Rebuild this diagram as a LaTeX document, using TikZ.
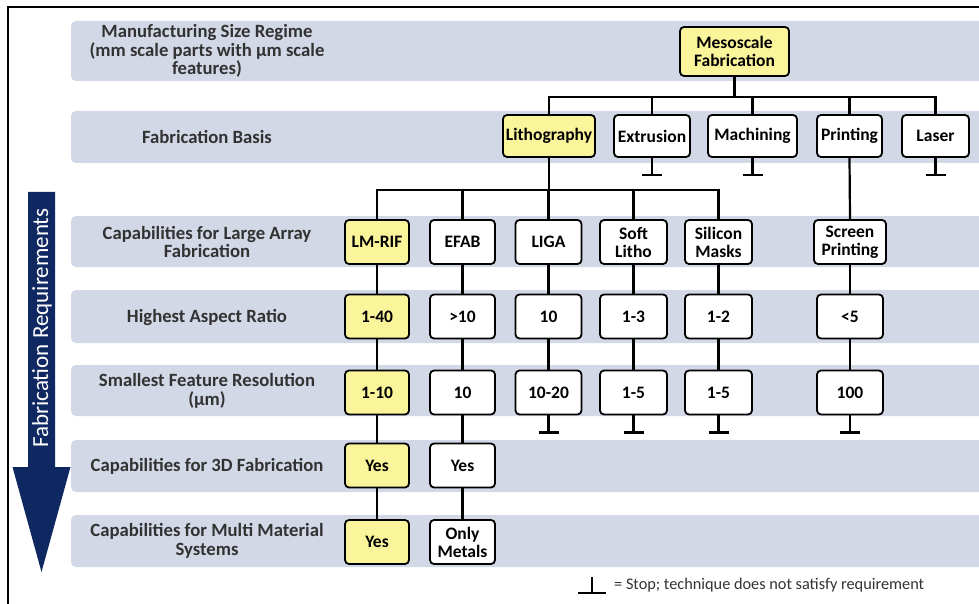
\documentclass[tikz,border=0pt]{standalone}
\usepackage{fontspec}
\setmainfont{Carlito}
\definecolor{bandblue}{RGB}{211,216,230}
\definecolor{boxyellow}{RGB}{250,245,155}
\definecolor{navy}{RGB}{16,40,98}
\definecolor{labelgray}{RGB}{50,50,50}
\newcommand\lbf{\bfseries\fontsize{18.7}{18.7}\selectfont}
\newcommand\bxf{\bfseries\fontsize{17.5}{18}\selectfont}
\tikzset{
  band/.style={fill=bandblue, rounded corners=5pt},
  rowlabel/.style={font=\lbf, text=labelgray, align=center, inner sep=0pt},
  box/.style={draw, line width=1.8pt, rounded corners=4pt, fill=white, font=\bxf,
    align=center, inner xsep=2pt, inner ysep=0pt, text=black},
  ybox/.style={box, fill=boxyellow},
  conn/.style={line width=2.2pt},
  stopbar/.style={line width=2.2pt},
  r3/.style={minimum height=44pt},
}
\begin{document}
\begin{tikzpicture}[x=1pt,y=-1pt]
\useasboundingbox (0,0) rectangle (979,604);
% frame
\draw[line width=1.2pt] (8,604) -- (8,7) -- (985,7);
% bands
\fill[band] (71,21) rectangle (995,81);
\fill[band] (71,111) rectangle (995,163);
\fill[band] (71,216) rectangle (995,267);
\fill[band] (71,290) rectangle (995,343);
\fill[band] (71,365) rectangle (995,416);
\fill[band] (71,440) rectangle (995,492);
\fill[band] (71,515) rectangle (995,567);
% row labels
\node[rowlabel] (l1) at (207,51) {Manufacturing Size Regime\\(mm scale parts with µm scale\\features)};
\node[rowlabel] (l2) at (207,137) {Fabrication Basis};
\node[rowlabel] (l3) at (207,242) {Capabilities for Large Array\\Fabrication};
\node[rowlabel] (l4) at (207,317.5) {Highest Aspect Ratio};
\node[rowlabel] (l5) at (207,391) {Smallest Feature Resolution\\(µm)};
\node[rowlabel] (l6) at (207,466) {Capabilities for 3D Fabrication};
\node[rowlabel] (l7) at (207,541) {Capabilities for Multi Material\\Systems};
% big arrow
\fill[navy] (28,192) -- (55,192) -- (55,467) -- (70.5,467) -- (41.5,572) -- (12.5,467) -- (28,467) -- cycle;
\node[rotate=90, text=white, font=\fontsize{23}{23}\selectfont, inner sep=0pt] (arrowtext) at (42,328) {Fabrication Requirements};
% nodes
\node[ybox, minimum width=109pt, minimum height=49pt] (meso) at (734.5,51.5) {Mesoscale\\Fabrication};
\node[ybox, minimum width=92pt, minimum height=42pt] (litho) at (549,136) {Lithography};
\node[box, minimum width=76pt, minimum height=42pt] (extr) at (652,136) {Extrusion};
\node[box, minimum width=89pt, minimum height=42pt] (mach) at (752.5,136) {Machining};
\node[box, minimum width=65pt, minimum height=42pt] (print) at (849.5,136) {Printing};
\node[box, minimum width=67pt, minimum height=42pt] (laser) at (935.5,136) {Laser};
% row 3
\node[ybox, r3, minimum width=64pt] (lmrif) at (377,242) {LM-RIF};
\node[box, r3, minimum width=65pt] (efab) at (462.5,242) {EFAB};
\node[box, r3, minimum width=66pt] (liga) at (548.5,242) {LIGA};
\node[box, r3, minimum width=67pt] (soft) at (633.5,242) {Soft\\Litho};
\node[box, r3, minimum width=67pt] (silicon) at (718.5,242) {Silicon\\Masks};
\node[box, r3, minimum width=72pt] (screen) at (850,242) {Screen\\Printing};
% row 4
\node[ybox, r3, minimum width=64pt] (lmrif4) at (377,316.5) {1-40};
\node[box, r3, minimum width=65pt] (efab4) at (462.5,316.5) {>10};
\node[box, r3, minimum width=66pt] (liga4) at (548.5,316.5) {10};
\node[box, r3, minimum width=67pt] (soft4) at (633.5,316.5) {1-3};
\node[box, r3, minimum width=67pt] (silicon4) at (718.5,316.5) {1-2};
\node[box, r3, minimum width=66pt] (screen4) at (850,316.5) {<5};
% row 5
\node[ybox, r3, minimum width=64pt] (lmrif5) at (377,392.5) {1-10};
\node[box, r3, minimum width=65pt] (efab5) at (462.5,392.5) {10};
\node[box, r3, minimum width=66pt] (liga5) at (548.5,392.5) {10-20};
\node[box, r3, minimum width=67pt] (soft5) at (633.5,392.5) {1-5};
\node[box, r3, minimum width=67pt] (silicon5) at (718.5,392.5) {1-5};
\node[box, r3, minimum width=66pt] (screen5) at (850,392.5) {100};
% row 6
\node[ybox, r3, minimum width=64pt] (lmrif6) at (377,465.5) {Yes};
\node[box, r3, minimum width=65pt] (efab6) at (462.5,465.5) {Yes};
% row 7
\node[ybox, r3, minimum width=64pt] (lmrif7) at (377,542) {Yes};
\node[box, r3, minimum width=65pt] (efab7) at (462.5,542) {Only\\Metals};
% connectors
\coordinate (bus1) at (736,97);
\coordinate (bus2) at (549,190);
\draw[conn] (meso.south) -- (meso.south |- bus1);
\draw[conn] (litho.north) -- (litho.north |- bus1) -- (laser.north |- bus1) -- (laser.north);
\draw[conn] (extr.north) -- (extr.north |- bus1);
\draw[conn] (mach.north) -- (mach.north |- bus1);
\draw[conn] (print.north) -- (print.north |- bus1);
\draw[conn] (litho.south) -- (bus2);
\draw[conn] (lmrif.north) -- (lmrif.north |- bus2) -- (silicon.north |- bus2) -- (silicon.north);
\draw[conn] (efab.north) -- (efab.north |- bus2);
\draw[conn] (liga.north) -- (liga.north |- bus2);
\draw[conn] (soft.north) -- (soft.north |- bus2);
\draw[conn] (print.south) -- (screen.north);
\foreach \a/\b in {lmrif/lmrif4, lmrif4/lmrif5, lmrif5/lmrif6, lmrif6/lmrif7,
  efab/efab4, efab4/efab5, efab5/efab6, efab6/efab7,
  liga/liga4, liga4/liga5, soft/soft4, soft4/soft5,
  silicon/silicon4, silicon4/silicon5, screen/screen4, screen4/screen5}
  \draw[conn] (\a.south) -- (\b.north);
% stops
\foreach \n in {extr, mach, laser, liga5, soft5, silicon5, screen5} {
  \draw[conn] (\n.south) -- ++(0,17) coordinate (\n-stop);
  \draw[stopbar] ([xshift=-10pt]\n-stop) -- ([xshift=10pt]\n-stop);
}
% legend
\coordinate (legtop) at (592,577);
\coordinate (legbase) at (592,593);
\draw[conn] (legtop) -- (legbase);
\draw[stopbar] ([xshift=-14pt]legbase) -- ([xshift=14pt]legbase);
\node[anchor=west, font=\fontsize{16.3}{16.3}\selectfont, text=labelgray, inner sep=0pt] (legend) at (614,585) {= Stop; technique does not satisfy requirement};
\end{tikzpicture}
\end{document}
